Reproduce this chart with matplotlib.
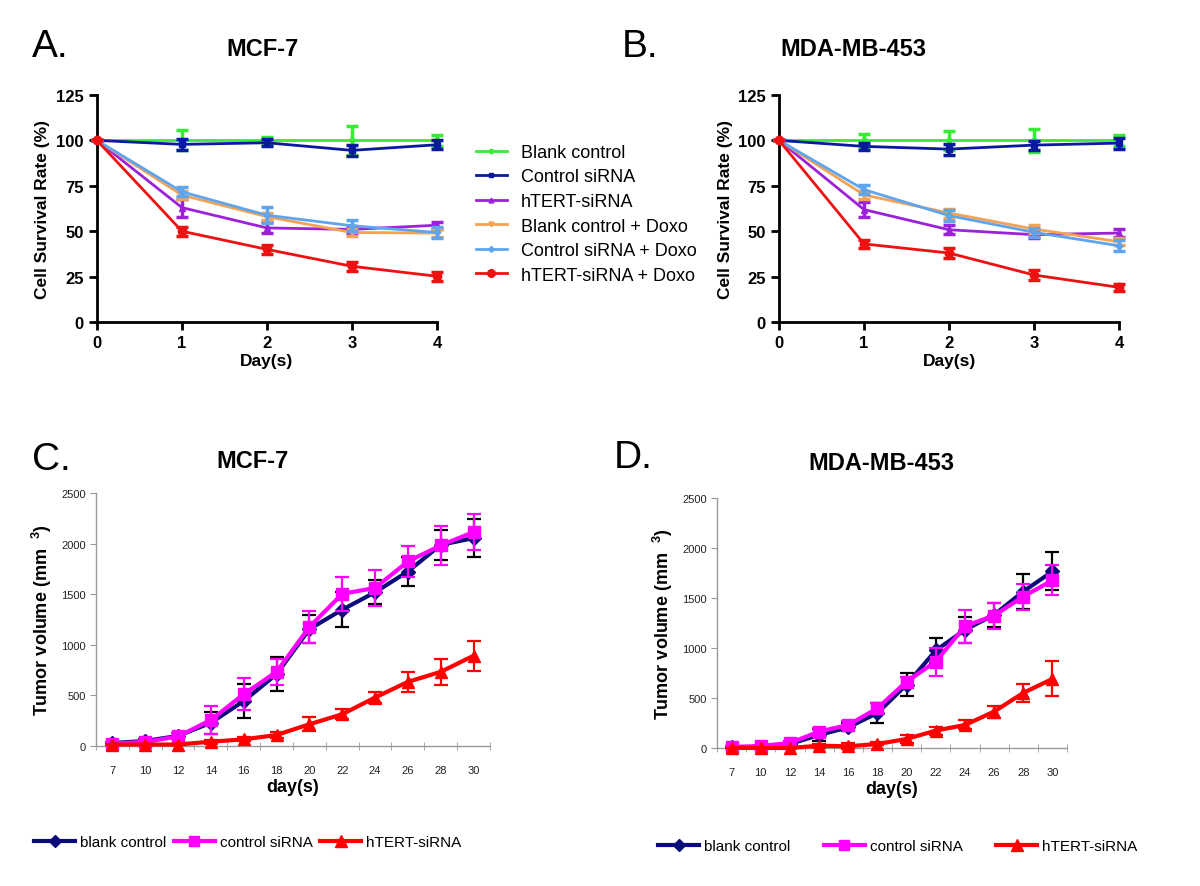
import numpy as np
import matplotlib
matplotlib.use("agg")
import matplotlib.pyplot as plt
from matplotlib.lines import Line2D

plt.rcParams['font.family'] = ['Liberation Sans', 'DejaVu Sans']
plt.rcParams['mathtext.fontset'] = 'custom'
plt.rcParams['mathtext.rm'] = 'Liberation Sans'
plt.rcParams['mathtext.bf'] = 'Liberation Sans:bold'

# ---- survival data (panels A, B) ----
days = [0, 1, 2, 3, 4]
survival_labels = ["Blank control", "Control siRNA", "hTERT-siRNA",
                   "Blank control + Doxo", "Control siRNA + Doxo", "hTERT-siRNA + Doxo"]

mcf7_surv = [
    [100, 100, 100, 100, 100],
    [100, 97.8, 98.7, 94.5, 97.6],
    [100, 63, 51.8, 51, 53.3],
    [100, 69.9, 58, 49.3, 49],
    [100, 71.7, 58.8, 53, 49.3],
    [100, 50, 40, 30.7, 25.2],
]
mcf7_surv_err = [
    [0, 5.5, 2, 8, 3],
    [0, 3, 2, 3, 2.5],
    [0, 5, 3, 2, 2],
    [0, 2, 2, 2, 2],
    [0, 2.5, 4.5, 3, 3],
    [0, 2.5, 2.5, 2.5, 2.5],
]
mda_surv = [
    [100, 100, 100, 100, 100],
    [100, 96.7, 95.2, 97.4, 98.5],
    [100, 61.9, 50.8, 48.1, 49],
    [100, 70, 60, 51.2, 44.2],
    [100, 72.9, 58.6, 49.4, 42],
    [100, 43, 38, 25.9, 19.1],
]
mda_surv_err = [
    [0, 3.5, 5.3, 6.2, 3],
    [0, 2, 3, 2.5, 3],
    [0, 4, 2.5, 2, 2],
    [0, 2, 2.5, 2, 2],
    [0, 2.5, 3, 2.5, 3],
    [0, 2, 3, 2.5, 2],
]

# ---- tumor volume data (panels C, D) ----
tumor_days = ["7", "10", "12", "14", "16", "18", "20", "22", "24", "26", "28", "30"]
tumor_labels = ["blank control", "control siRNA", "hTERT-siRNA"]

mcf7_vol = [
    [30, 50, 100, 230, 445, 710, 1155, 1347, 1519, 1724, 1988, 2054],
    [25, 40, 95, 257, 512, 733, 1176, 1503, 1562, 1823, 1982, 2114],
    [15, 15, 15, 43, 66, 109, 215, 314, 479, 634, 733, 892],
]
mcf7_vol_err = [
    [10, 15, 30, 110, 165, 170, 140, 170, 120, 140, 150, 190],
    [10, 15, 30, 140, 160, 130, 160, 170, 180, 150, 190, 180],
    [5, 5, 5, 20, 20, 30, 70, 50, 50, 100, 130, 150],
]
mda_vol = [
    [5, 10, 40, 130, 207, 350, 634, 975, 1182, 1332, 1565, 1766],
    [10, 20, 50, 164, 230, 397, 664, 864, 1218, 1325, 1515, 1676],
    [0, 0, 0, 23, 17, 40, 90, 174, 230, 364, 551, 691],
]
mda_vol_err = [
    [5, 10, 20, 60, 40, 100, 115, 130, 130, 120, 175, 190],
    [5, 10, 20, 40, 40, 50, 50, 140, 165, 130, 130, 150],
    [0, 0, 0, 20, 30, 15, 40, 40, 45, 60, 90, 175],
]

surv_colors = ["#33ee33", "#0a1a9e", "#9b22d8", "#f4a254", "#5fa5ee", "#ee1111"]
surv_markers = ["o", "s", "^", "v", "D", "o"]
surv_msize = [3.5, 4, 4, 4, 3.5, 6]

vol_colors = ["#0b0b7a", "#ff00ff", "#ff0000"]
vol_err_colors = ["#000000", "#ff00ff", "#ff0000"]
vol_markers = ["D", "s", "^"]
vol_msize = [7, 8, 9]


def survival_panel(ax, data, err, with_legend=False):
    for i in range(len(data)):
        ax.errorbar(days, data[i], yerr=err[i], color=surv_colors[i],
                    marker=surv_markers[i], markersize=surv_msize[i], lw=2,
                    elinewidth=2.5, capsize=4, capthick=2.5,
                    clip_on=False, zorder=3 + i)
    ax.set_xlim(0, 4)
    ax.set_ylim(0, 125)
    ax.set_xticks(days)
    ax.set_yticks([0, 25, 50, 75, 100, 125])
    for s in ["top", "right"]:
        ax.spines[s].set_visible(False)
    for s in ["left", "bottom"]:
        ax.spines[s].set_linewidth(2)
    ax.tick_params(width=2, length=6, labelsize=12, direction="out")
    for t in ax.get_xticklabels() + ax.get_yticklabels():
        t.set_fontweight("bold")
    ax.set_xlabel("Day(s)", fontsize=12.5, fontweight="bold", labelpad=2)
    ax.set_ylabel("Cell Survival Rate (%)", fontsize=12.5, fontweight="bold", labelpad=4)
    if with_legend:
        handles = [Line2D([], [], color=surv_colors[i], marker=surv_markers[i],
                          markersize=surv_msize[i] - 0.5, lw=2) for i in range(len(data))]
        ax.legend(handles, survival_labels, loc="upper left", bbox_to_anchor=(0.383, 0.855),
                  bbox_transform=fig.transFigure, frameon=False, fontsize=13,
                  handlelength=1.7, labelspacing=0.42, handletextpad=0.8)


def tumor_panel(ax, data, err, legend_anchor, colspace):
    x = np.arange(len(tumor_days))
    for i in range(len(data)):
        ax.errorbar(x, data[i], yerr=err[i], color=vol_colors[i], ecolor=vol_err_colors[i],
                    marker=vol_markers[i], markersize=vol_msize[i], lw=3,
                    elinewidth=1.6, capsize=5, capthick=1.6,
                    clip_on=False, zorder=3 + i)
    ax.set_xlim(-0.5, len(tumor_days) - 0.5)
    ax.set_ylim(0, 2500)
    ax.set_yticks([0, 500, 1000, 1500, 2000, 2500])
    ax.set_xticks(x)
    ax.set_xticklabels(tumor_days)
    ax.set_xticks(np.arange(-0.5, len(tumor_days)), minor=True)
    for s in ["top", "right"]:
        ax.spines[s].set_visible(False)
    for s in ["left", "bottom"]:
        ax.spines[s].set_color("#999999")
        ax.spines[s].set_linewidth(1)
    ax.tick_params(axis="x", which="major", length=0, labelsize=8, labelcolor="#222222", pad=14)
    ax.tick_params(axis="x", which="minor", length=6, direction="inout", color="#999999")
    ax.tick_params(axis="y", length=4, color="#999999", labelsize=8, labelcolor="#222222")
    ax.set_xlabel("day(s)", fontsize=13, fontweight="bold", labelpad=2)
    ax.set_ylabel(r"Tumor volume (mm  $^{\mathbf{3}}$)", fontsize=13, fontweight="bold", labelpad=5)
    handles = [Line2D([], [], color=vol_colors[i], marker=vol_markers[i],
                      markersize=vol_msize[i] - 1, lw=3) for i in range(len(data))]
    ax.legend(handles, tumor_labels, loc="center left", bbox_to_anchor=legend_anchor,
              bbox_transform=fig.transFigure, ncol=3, frameon=False, fontsize=11,
              handlelength=2.7, handletextpad=0.3, columnspacing=colspace)


fig = plt.figure(figsize=(12, 8.87), dpi=100)

axA = fig.add_axes([0.0808, 0.6358, 0.2833, 0.256])
axB = fig.add_axes([0.6492, 0.6358, 0.2833, 0.256])
axC = fig.add_axes([0.0800, 0.1578, 0.3283, 0.2853])
axD = fig.add_axes([0.5975, 0.1556, 0.2917, 0.2818])

survival_panel(axA, mcf7_surv, mcf7_surv_err, with_legend=True)
survival_panel(axB, mda_surv, mda_surv_err)
tumor_panel(axC, mcf7_vol, mcf7_vol_err, (0.017, 1 - 843 / 887), 0.5)
tumor_panel(axD, mda_vol, mda_vol_err, (0.537, 1 - 847 / 887), 2.2)

# titles and panel letters
fig.text(263 / 1200, 1 - 49 / 887, "MCF-7", ha="center", va="center", fontsize=17, fontweight="bold")
fig.text(853 / 1200, 1 - 49 / 887, "MDA-MB-453", ha="center", va="center", fontsize=17, fontweight="bold")
fig.text(252 / 1200, 1 - 462 / 887, "MCF-7", ha="center", va="center", fontsize=17, fontweight="bold")
fig.text(881 / 1200, 1 - 463 / 887, "MDA-MB-453", ha="center", va="center", fontsize=17, fontweight="bold")
fig.text(32 / 1200, 1 - 47 / 887, "A.", ha="left", va="center", fontsize=28)
fig.text(622 / 1200, 1 - 47 / 887, "B.", ha="left", va="center", fontsize=28)
fig.text(32 / 1200, 1 - 460 / 887, "C.", ha="left", va="center", fontsize=28)
fig.text(614 / 1200, 1 - 458 / 887, "D.", ha="left", va="center", fontsize=28)

plt.savefig("out.png", dpi=100)
